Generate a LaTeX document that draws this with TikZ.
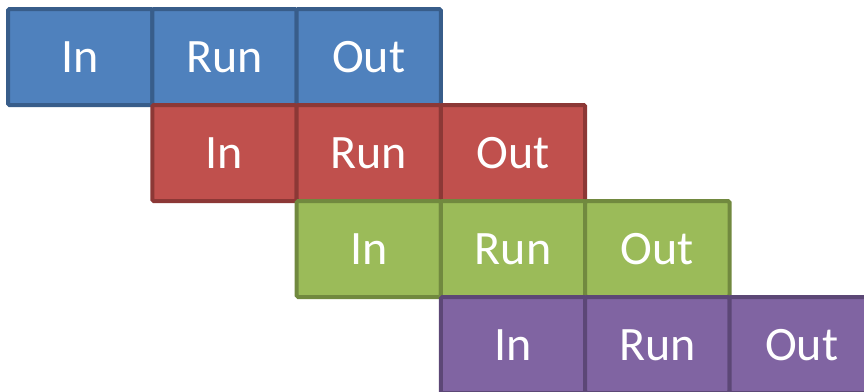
\documentclass[tikz,border=0pt]{standalone}
\usepackage{fontspec}
\setmainfont{Carlito}
\definecolor{bfill}{HTML}{4F81BD}\definecolor{bline}{HTML}{385D8A}
\definecolor{rfill}{HTML}{C0504D}\definecolor{rline}{HTML}{8C3836}
\definecolor{gfill}{HTML}{9BBB59}\definecolor{gline}{HTML}{71893F}
\definecolor{pfill}{HTML}{8064A2}\definecolor{pline}{HTML}{5C4776}
\tikzset{
  cell/.style={draw, line width=4pt, rounded corners=1.5pt, minimum width=144.3pt, minimum height=96pt,
    inner sep=0pt, outer sep=0pt, text=white, font=\fontsize{48}{48}\selectfont, anchor=north west},
}
\begin{document}
\begin{tikzpicture}[x=1pt,y=-1pt]
\useasboundingbox (0,0) rectangle (864,391);
\foreach \r/\fc/\lc in {0/bfill/bline,1/rfill/rline,2/gfill/gline,3/pfill/pline}{
  \foreach \c/\t in {0/In,1/Run,2/Out}{
    \node[cell, fill=\fc, draw=\lc] (c\r\c) at ({8+144.3*(\r+\c)},{9+96*\r}) {\t};
  }
}
\end{tikzpicture}
\end{document}
